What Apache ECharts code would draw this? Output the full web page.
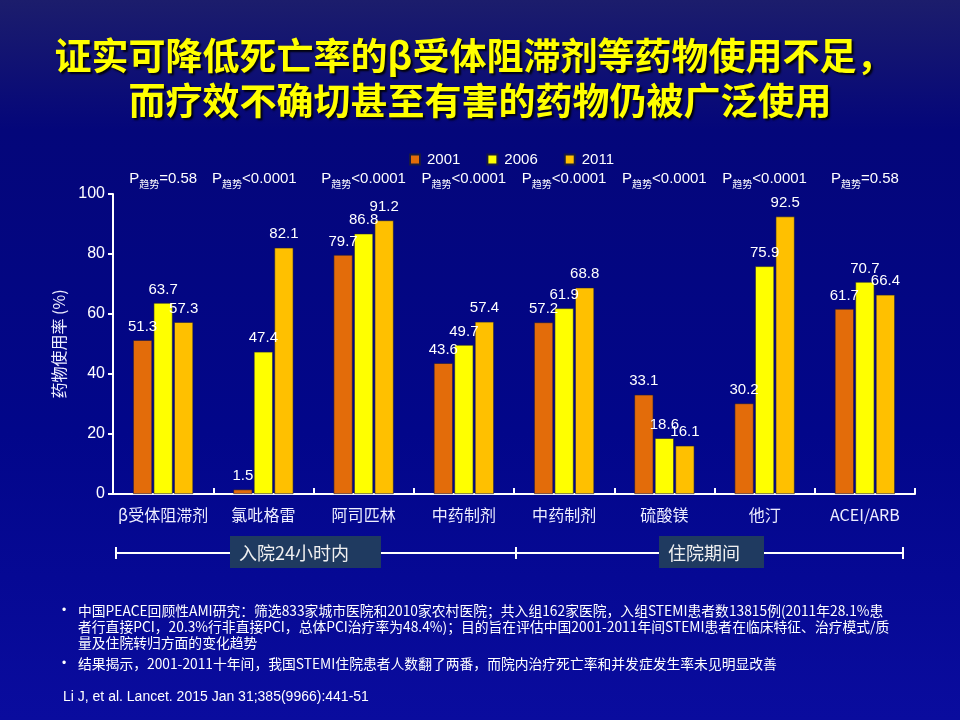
<!DOCTYPE html>
<html>
<head>
<meta charset="utf-8">
<script src="https://cdn.jsdelivr.net/npm/echarts@6/dist/echarts.min.js"></script>
<style>
html,body{margin:0;padding:0;width:960px;height:720px;overflow:hidden;}
#c{width:960px;height:720px;}
</style>
</head>
<body>
<div id="c"></div>
<script>
var categories = ['β受体阻滞剂','氯吡格雷','阿司匹林','中药制剂','中药制剂','硫酸镁','他汀','ACEI/ARB'];
var seriesNames = ['2001','2006','2011'];
var s2001 = [51.3, 1.5, 79.7, 43.6, 57.2, 33.1, 30.2, 61.7];
var s2006 = [63.7, 47.4, 86.8, 49.7, 61.9, 18.6, 75.9, 70.7];
var s2011 = [57.3, 82.1, 91.2, 57.4, 68.8, 16.1, 92.5, 66.4];
var pOps = ['=','<','<','<','<','<','<','='];
var pVals = ['0.58','0.0001','0.0001','0.0001','0.0001','0.0001','0.0001','0.58'];
var yTicks = [0, 20, 40, 60, 80, 100];
var groupLabels = ['入院24小时内','住院期间'];
var titleLines = ['证实可降低死亡率的β受体阻滞剂等药物使用不足，','而疗效不确切甚至有害的药物仍被广泛使用'];
var notes = [
  ['中国PEACE回顾性AMI研究：筛选833家城市医院和2010家农村医院；共入组162家医院，入组STEMI患者数13815例(2011年28.1%患',
   '者行直接PCI，20.3%行非直接PCI，总体PCI治疗率为48.4%)；目的旨在评估中国2001-2011年间STEMI患者在临床特征、治疗模式/质',
   '量及住院转归方面的变化趋势'],
  ['结果揭示，2001-2011十年间，我国STEMI住院患者人数翻了两番，而院内治疗死亡率和并发症发生率未见明显改善']
];
var citation = 'Li J, et al. Lancet. 2015 Jan 31;385(9966):441-51';

var colors = ['#E36C0A', '#FFFF00', '#FFC000'];
var FONT = '"Liberation Sans", Arial, "Noto Sans CJK SC", sans-serif';
var CJK = '"Noto Sans CJK SC", "Liberation Sans", sans-serif';

var pLabels = pOps.map(function(op, i){ return '{p|P}{s|趋势}{v|' + op + pVals[i] + '}'; });

var chart = echarts.init(document.getElementById('c'));

var graphics = [];
// title
titleLines.forEach(function(t, i){
  graphics.push({type:'text', z:10, x: 474 + i*6, y: 56 + i*45, style:{
    text:t, fill:'#FFFF00', font:'bold 37px ' + CJK, textAlign:'center', textVerticalAlign:'middle',
    textShadowColor:'rgba(0,0,0,0.9)', textShadowOffsetX:2, textShadowOffsetY:2, textShadowBlur:2
  }});
});
// brackets
var ly = 553;
function line(x1,y1,x2,y2){ graphics.push({type:'line', z:5, shape:{x1:x1,y1:y1,x2:x2,y2:y2}, style:{stroke:'#ffffff', lineWidth:2}}); }
line(116, ly, 903, ly);
line(116, ly-6, 116, ly+6);
line(516, ly-6, 516, ly+6);
line(903, ly-6, 903, ly+6);
var boxes = [{x:230,w:151},{x:659,w:105}];
boxes.forEach(function(b, i){
  graphics.push({type:'rect', z:6, shape:{x:b.x, y:536, width:b.w, height:32}, style:{fill:'#1F3A60'}});
  graphics.push({type:'text', z:7, x:b.x + 9, y:553, style:{text:groupLabels[i], fill:'#F0F0F0', font:'18px ' + CJK, textAlign:'left', textVerticalAlign:'middle'}});
});
// notes
notes.forEach(function(para, pi){
  var y0 = pi === 0 ? 611 : 664;
  graphics.push({type:'text', z:7, x:62, y:y0, style:{text:'•', fill:'#ffffff', font:'12px ' + FONT, textVerticalAlign:'middle'}});
  para.forEach(function(l, li){
    graphics.push({type:'text', z:7, x:78, y:y0 + li*16, style:{text:l, fill:'#ffffff', font:'13.8px ' + CJK, textVerticalAlign:'middle'}});
  });
});
graphics.push({type:'text', z:7, x:63, y:697, style:{text:citation, fill:'#ffffff', font:'14px ' + FONT, textVerticalAlign:'middle'}});

function mkSeries(name, data, color){
  return {
    name:name, type:'bar', data:data, barWidth:19, barGap:'8%',
    itemStyle:{color:color, borderColor:'#1a1a40', borderWidth:0.6},
    label:{show:true, position:'top', distance:6, color:'#ffffff', fontSize:15, fontFamily:FONT}
  };
}

var pData = pLabels.map(function(l, i){
  return i === 1 ? {value:l, textStyle:{padding:[0,18,0,0]}} : l;
});

chart.setOption({
  backgroundColor: {type:'linear', x:0, y:0, x2:0, y2:1, colorStops:[
    {offset:0, color:'#1c1d6c'}, {offset:0.18, color:'#04067a'}, {offset:0.6, color:'#02068a'}, {offset:1, color:'#0a0c9e'}]},
  animation:false,
  color: colors,
  textStyle:{fontFamily:FONT},
  graphic: graphics,
  legend:{
    data: seriesNames, left:404, top:147, itemWidth:10, itemHeight:10, itemGap:26, icon:'rect',
    textStyle:{color:'#ffffff', fontSize:15, fontFamily:FONT, padding:[0,0,0,2]}
  },
  grid:{left:113, right:45, top:194, bottom:226, containLabel:false},
  xAxis:[{
    type:'category', data:categories, position:'bottom',
    axisLine:{lineStyle:{color:'#ffffff', width:2}},
    axisTick:{show:true, inside:true, length:6, lineStyle:{color:'#ffffff', width:2}},
    axisLabel:{color:'#EEEEFF', fontSize:16, margin:13, fontFamily:CJK, interval:0}
  },{
    type:'category', data:pData, position:'top',
    axisLine:{show:false}, axisTick:{show:false},
    axisLabel:{interval:0, margin:5, color:'#ffffff', fontFamily:FONT,
      rich:{
        p:{fontSize:15, color:'#ffffff', fontFamily:FONT, verticalAlign:'top'},
        s:{fontSize:10, color:'#ffffff', fontFamily:CJK, verticalAlign:'top', padding:[8,0,0,0]},
        v:{fontSize:15, color:'#ffffff', fontFamily:FONT, verticalAlign:'top'}
      }}
  }],
  yAxis:{
    type:'value', min:0, max:100, interval:20,
    name:'药物使用率 (%)', nameLocation:'middle', nameGap:44, nameRotate:90,
    nameTextStyle:{color:'#EEEEFF', fontSize:16, fontFamily:CJK},
    axisLine:{show:true, lineStyle:{color:'#ffffff', width:2}},
    axisTick:{show:true, inside:false, length:5, lineStyle:{color:'#ffffff', width:2}},
    axisLabel:{color:'#ffffff', fontSize:16, margin:8, fontFamily:FONT,
      formatter:function(v){ return yTicks.indexOf(v) >= 0 ? String(v) : ''; }},
    splitLine:{show:false}
  },
  series:[mkSeries(seriesNames[0], s2001, colors[0]), mkSeries(seriesNames[1], s2006, colors[1]), mkSeries(seriesNames[2], s2011, colors[2])]
});
</script>
</body>
</html>
